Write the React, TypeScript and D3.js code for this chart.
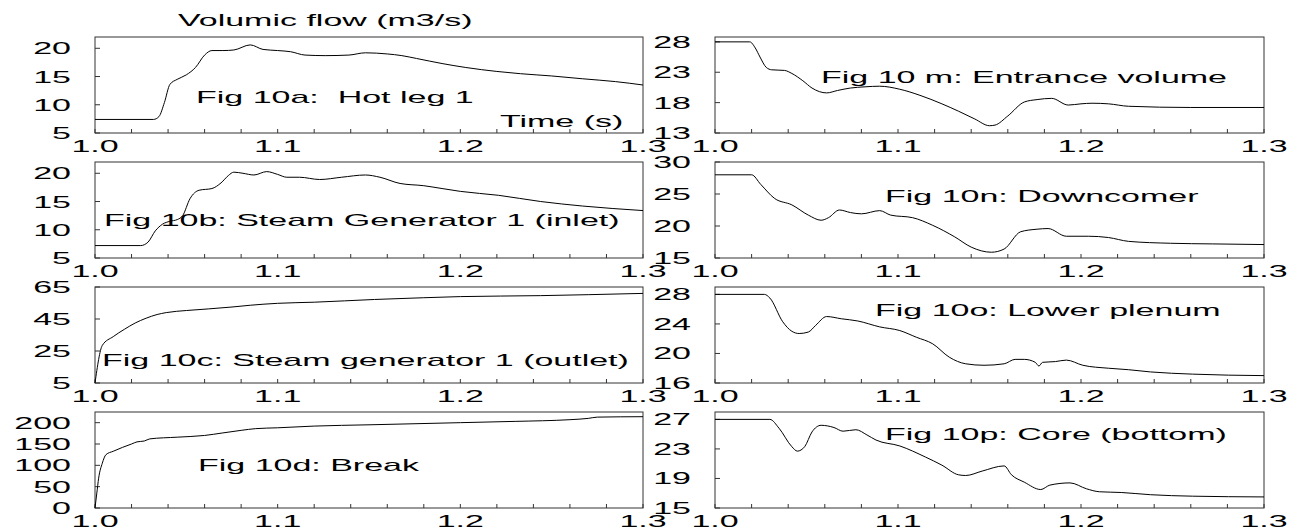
import * as d3 from 'd3';
import React from 'react';

const width = 1303, height = 532;

// time axis (s)
const timeDomain = [1.0, 1.3];
const timeTicks = [1.0, 1.1, 1.2, 1.3];
const timeMinor = d3.range(0, 16).map(i => 1.0 + i * 0.02);

// Fig 10a: Hot leg 1
const hotLegT = [1.0, 1.032, 1.035, 1.038, 1.041, 1.045, 1.05, 1.055, 1.06, 1.064, 1.07, 1.076, 1.085, 1.092, 1.1, 1.107, 1.115, 1.126, 1.139, 1.148, 1.16, 1.168, 1.176, 1.19, 1.203, 1.22, 1.233, 1.25, 1.267, 1.285, 1.3];
const hotLegQ = [7.4, 7.4, 7.9, 10.4, 13.6, 14.5, 15.3, 16.6, 18.8, 19.6, 19.6, 19.7, 20.6, 19.8, 19.6, 19.4, 18.8, 18.7, 18.8, 19.2, 19.0, 18.7, 18.2, 17.3, 16.6, 15.9, 15.5, 15.1, 14.6, 14.1, 13.5];

// Fig 10b: Steam generator 1 inlet
const sgInT = [1.0, 1.025, 1.029, 1.033, 1.037, 1.041, 1.045, 1.048, 1.052, 1.057, 1.064, 1.069, 1.073, 1.076, 1.081, 1.087, 1.094, 1.1, 1.105, 1.112, 1.123, 1.135, 1.148, 1.156, 1.167, 1.18, 1.19, 1.2, 1.221, 1.244, 1.267, 1.3];
const sgInQ = [7.2, 7.2, 7.8, 9.8, 11.0, 11.5, 11.8, 12.5, 15.5, 17.0, 17.3, 18.3, 19.6, 20.2, 20.0, 19.7, 20.3, 19.8, 19.3, 19.3, 18.9, 19.3, 19.7, 19.3, 18.2, 17.8, 17.3, 16.8, 16.1, 15.0, 14.2, 13.4];

// Fig 10c: Steam generator 1 outlet
const sgOutT = [1.0, 1.004, 1.01, 1.016, 1.022, 1.028, 1.034, 1.039, 1.05, 1.062, 1.075, 1.085, 1.1, 1.12, 1.153, 1.18, 1.2, 1.244, 1.27, 1.3];
const sgOutQ = [5, 28.5, 34, 38.5, 42.5, 45.5, 47.8, 49.0, 50.3, 51.3, 52.5, 53.6, 54.8, 55.5, 57.2, 58.3, 59.0, 59.6, 60.2, 61.0];

// Fig 10d: Break
const breakT = [1.0, 1.001, 1.002, 1.004, 1.006, 1.01, 1.015, 1.02, 1.023, 1.027, 1.03, 1.045, 1.06, 1.07, 1.08, 1.088, 1.1, 1.12, 1.15, 1.2, 1.23, 1.26, 1.27, 1.275, 1.3];
const breakQ = [0, 35, 70, 105, 125, 133, 142, 150, 155, 157, 162, 166, 170, 176, 182, 186, 188, 192, 195, 200, 203, 207, 210, 213, 214];

// Fig 10m: Entrance volume
const entranceT = [1.0, 1.019, 1.022, 1.0246, 1.028, 1.031, 1.038, 1.042, 1.048, 1.053, 1.061, 1.067, 1.074, 1.082, 1.09, 1.101, 1.112, 1.124, 1.133, 1.142, 1.15, 1.153, 1.16, 1.169, 1.176, 1.184, 1.193, 1.2, 1.206, 1.215, 1.226, 1.26, 1.3];
const entranceQ = [28, 28, 27, 25.5, 23.8, 23.4, 23.3, 22.8, 21.6, 20.4, 19.6, 20.0, 20.4, 20.6, 20.7, 20.2, 19.2, 17.8, 16.6, 15.3, 14.2, 14.3, 15.8, 18.1, 18.5, 18.7, 17.6, 17.8, 17.9, 17.8, 17.4, 17.2, 17.2];

// Fig 10n: Downcomer
const downT = [1.0, 1.02, 1.025, 1.0326, 1.042, 1.051, 1.058, 1.062, 1.068, 1.074, 1.08, 1.09, 1.096, 1.108, 1.119, 1.131, 1.14, 1.151, 1.158, 1.167, 1.176, 1.182, 1.192, 1.204, 1.215, 1.226, 1.249, 1.272, 1.3];
const downQ = [28, 28, 26.5, 24.3, 23.3, 21.7, 20.9, 21.3, 22.5, 22.1, 21.9, 22.4, 21.7, 21.3, 20.1, 18.3, 16.7, 15.9, 16.4, 19.1, 19.5, 19.6, 18.4, 18.4, 18.2, 17.6, 17.3, 17.2, 17.1];

// Fig 10o: Lower plenum
const plenumT = [1.0, 1.027, 1.03, 1.037, 1.042, 1.046, 1.051, 1.055, 1.061, 1.069, 1.078, 1.09, 1.101, 1.11, 1.119, 1.128, 1.137, 1.147, 1.158, 1.164, 1.169, 1.175, 1.177, 1.179, 1.186, 1.192, 1.201, 1.215, 1.226, 1.238, 1.261, 1.3];
const plenumQ = [28, 28, 27.5, 24.3, 23.0, 22.7, 22.9, 23.8, 25.0, 24.7, 24.4, 23.6, 23.1, 22.2, 21.3, 19.5, 18.6, 18.4, 18.6, 19.2, 19.2, 18.8, 18.3, 18.8, 18.9, 19.1, 18.4, 18.0, 17.8, 17.5, 17.2, 17.0];

// Fig 10p: Core (bottom)
const coreT = [1.0, 1.03, 1.035, 1.042, 1.045, 1.049, 1.053, 1.058, 1.065, 1.07, 1.077, 1.083, 1.088, 1.101, 1.115, 1.124, 1.133, 1.137, 1.146, 1.158, 1.162, 1.169, 1.178, 1.183, 1.194, 1.203, 1.21, 1.222, 1.238, 1.261, 1.3];
const coreQ = [27, 27, 25.8, 23.3, 22.7, 23.3, 25.3, 26.2, 25.9, 25.4, 25.6, 24.9, 24.2, 23.4, 21.9, 20.8, 19.5, 19.4, 20.0, 20.7, 19.5, 18.5, 17.5, 18.1, 18.4, 17.6, 17.2, 17.1, 16.8, 16.6, 16.5];

const panels = [
  { label: 'Fig 10a:  Hot leg 1', t: hotLegT, q: hotLegQ, domain: [5, 22], ticks: [5, 10, 15, 20], col: 0, row: 0, lx: 196, ly: 103 },
  { label: 'Fig 10b: Steam Generator 1 (inlet)', t: sgInT, q: sgInQ, domain: [5, 22], ticks: [5, 10, 15, 20], col: 0, row: 1, lx: 104, ly: 226 },
  { label: 'Fig 10c: Steam generator 1 (outlet)', t: sgOutT, q: sgOutQ, domain: [5, 65], ticks: [5, 25, 45, 65], col: 0, row: 2, lx: 102, ly: 366 },
  { label: 'Fig 10d: Break', t: breakT, q: breakQ, domain: [0, 225], ticks: [0, 50, 100, 150, 200], col: 0, row: 3, lx: 198, ly: 471 },
  { label: 'Fig 10 m: Entrance volume', t: entranceT, q: entranceQ, domain: [13, 28.8], ticks: [13, 18, 23, 28], col: 1, row: 0, lx: 821, ly: 83 },
  { label: 'Fig 10n: Downcomer', t: downT, q: downQ, domain: [15, 30], ticks: [15, 20, 25, 30], col: 1, row: 1, lx: 885, ly: 202 },
  { label: 'Fig 10o: Lower plenum', t: plenumT, q: plenumQ, domain: [16, 29], ticks: [16, 20, 24, 28], col: 1, row: 2, lx: 875, ly: 316 },
  { label: 'Fig 10p: Core (bottom)', t: coreT, q: coreQ, domain: [15, 28], ticks: [15, 19, 23, 27], col: 1, row: 3, lx: 885, ly: 440 },
];

const colX = [[95, 643], [715, 1264]];
const rowTop = 37, rowStep = 125, boxH = 96;
const font = "'Liberation Sans', Arial, Helvetica, sans-serif";
const fs = 17;
const stretch = 2;

// the original is drawn with wide, horizontally stretched lettering
const Txt = ({ x, y, anchor = 'start', children }: any) => (
  <text transform={`translate(${x},${y}) scale(${stretch},1)`} textAnchor={anchor}
    fontFamily={font} fontSize={fs} fill="#000" style={{ whiteSpace: 'pre' }}>{children}</text>
);

const Panel = ({ p }: any) => {
  const [x0, x1] = colX[p.col];
  const top = rowTop + p.row * rowStep;
  const bottom = top + boxH;
  const x = d3.scaleLinear().domain(timeDomain).range([x0, x1]);
  const y = d3.scaleLinear().domain(p.domain).range([bottom, top]);
  const pts: [number, number][] = p.t.map((t: number, i: number) => [t, p.q[i]]);
  const line = d3.line<[number, number]>()
    .x(d => x(d[0]))
    .y(d => y(d[1]))
    .curve(d3.curveMonotoneX);
  return (
    <g>
      <rect x={x0} y={top} width={x1 - x0} height={boxH} fill="none" stroke="#333" strokeWidth={1} />
      {timeMinor.map((t, i) => (
        <line key={'mt' + i} x1={x(t)} x2={x(t)} y1={bottom} y2={bottom - 4} stroke="#333" strokeWidth={1} />
      ))}
      {p.ticks.map((v: number) => (
        <line key={'yt' + v} x1={x0} x2={x0 + 5} y1={y(v)} y2={y(v)} stroke="#333" strokeWidth={1} />
      ))}
      {p.ticks.map((v: number) => (
        <Txt key={'yl' + v} x={x0 - 24} y={y(v) + 6} anchor="end">{String(v)}</Txt>
      ))}
      {timeTicks.map(t => (
        <Txt key={'xl' + t} x={x(t)} y={bottom + 19} anchor="middle">{t.toFixed(1)}</Txt>
      ))}
      <path d={line(pts) || ''} fill="none" stroke="#000" strokeWidth={1} />
      <Txt x={p.lx} y={p.ly}>{p.label}</Txt>
    </g>
  );
};

const App = () => {
  return (
    <svg width={width} height={height} style={{ position: 'absolute', left: 0, top: 0, background: '#fff' }}>
      <rect width={width} height={height} fill="#fff" />
      <Txt x={178} y={26}>Volumic flow (m3/s)</Txt>
      {panels.map((p, i) => <Panel key={i} p={p} />)}
      <Txt x={500} y={127}>Time (s)</Txt>
    </svg>
  );
};

export default App;
